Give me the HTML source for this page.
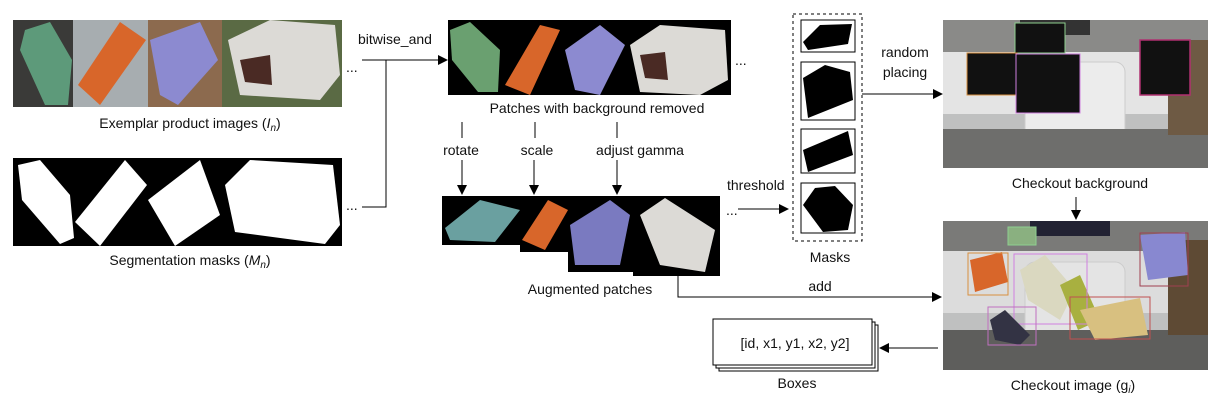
<!DOCTYPE html>
<html><head><meta charset="utf-8"><style>
html,body{margin:0;padding:0;background:#fff}
svg{display:block}
text{font-family:"Liberation Sans",Arial,sans-serif;font-size:14px;fill:#111}
</style></head><body>
<svg width="1224" height="404" viewBox="0 0 1224 404" xmlns="http://www.w3.org/2000/svg">
<defs>
<marker id="a" markerWidth="10" markerHeight="10" refX="9" refY="5" orient="auto" markerUnits="userSpaceOnUse">
<path d="M0,0 L10,5 L0,10 z" fill="#000"/></marker>
</defs>
<!-- exemplar images -->
<rect x="13" y="20" width="60" height="87" fill="#3a3a38"/>
<polygon points="25,30 50,22 72,60 68,105 45,105 20,50" fill="#5d9a7a"/>
<rect x="73" y="20" width="75" height="87" fill="#a7adb0"/>
<polygon points="78,85 120,22 146,40 100,105" fill="#d8662a"/>
<rect x="148" y="20" width="74" height="87" fill="#8c6a4e"/>
<polygon points="150,40 200,22 218,60 178,105 160,95" fill="#8c8ad0"/>
<rect x="222" y="20" width="120" height="87" fill="#5a6a44"/>
<polygon points="228,40 270,20 335,25 340,75 320,100 240,95" fill="#dcdad6"/>
<polygon points="240,60 270,55 272,85 245,82" fill="#4a2a24"/>
<text x="346" y="72" font-size="14">...</text>
<text x="190" y="128" text-anchor="middle">Exemplar product images (<tspan font-style="italic">I</tspan><tspan font-style="italic" font-size="10" dy="3">n</tspan><tspan dy="-3">)</tspan></text>
<!-- masks -->
<rect x="13" y="158" width="329" height="88" fill="#000"/>
<polygon points="18,165 40,160 70,195 74,238 60,244 22,200" fill="#fff"/>
<polygon points="75,222 125,160 147,185 100,246" fill="#fff"/>
<polygon points="148,200 200,160 220,215 175,246" fill="#fff"/>
<polygon points="225,185 250,160 333,165 340,225 325,244 235,232" fill="#fff"/>
<text x="346" y="210">...</text>
<text x="190" y="265" text-anchor="middle">Segmentation masks (<tspan font-style="italic">M</tspan><tspan font-style="italic" font-size="10" dy="3">n</tspan><tspan dy="-3">)</tspan></text>
<!-- bitwise_and -->
<text x="358" y="44">bitwise_and</text>
<line x1="362" y1="60" x2="447" y2="60" stroke="#000" stroke-width="1" marker-end="url(#a)"/>
<polyline points="362,207 386,207 386,60" fill="none" stroke="#000"/>
<!-- patches -->
<rect x="448" y="20" width="283" height="75" fill="#000"/>
<polygon points="450,30 470,22 500,50 498,92 478,92 452,60" fill="#6aa070"/>
<polygon points="505,85 540,25 560,30 530,95" fill="#d8662a"/>
<polygon points="565,50 600,25 625,45 600,95 575,90" fill="#8c8ad0"/>
<polygon points="630,45 660,25 725,30 728,80 700,95 640,92" fill="#dcdad6"/>
<polygon points="640,55 665,52 668,80 645,78" fill="#4a2a24"/>
<text x="735" y="65">...</text>
<text x="597" y="113" text-anchor="middle">Patches with background removed</text>
<!-- augment arrows -->
<line x1="462" y1="122" x2="462" y2="138" stroke="#000"/>
<line x1="535" y1="122" x2="535" y2="138" stroke="#000"/>
<line x1="617" y1="122" x2="617" y2="138" stroke="#000"/>
<text x="461" y="155" text-anchor="middle">rotate</text>
<text x="537" y="155" text-anchor="middle">scale</text>
<text x="640" y="155" text-anchor="middle">adjust gamma</text>
<line x1="462" y1="160" x2="462" y2="194" stroke="#000" marker-end="url(#a)"/>
<line x1="534" y1="160" x2="534" y2="194" stroke="#000" marker-end="url(#a)"/>
<line x1="617" y1="160" x2="617" y2="194" stroke="#000" marker-end="url(#a)"/>
<!-- augmented -->
<rect x="442" y="196" width="80" height="49" fill="#000"/>
<rect x="520" y="196" width="50" height="56" fill="#000"/>
<rect x="568" y="196" width="67" height="76" fill="#000"/>
<rect x="633" y="196" width="87" height="80" fill="#000"/>
<polygon points="445,228 480,200 520,210 495,242 450,240" fill="#6aa0a0"/>
<polygon points="522,240 548,200 568,210 545,250" fill="#d8662a"/>
<polygon points="570,225 610,200 630,215 620,265 575,265" fill="#7a7ac0"/>
<polygon points="640,215 665,198 715,230 705,272 660,265" fill="#dcdad6"/>
<text x="726" y="215">...</text>
<text x="590" y="294" text-anchor="middle">Augmented patches</text>
<!-- threshold -->
<text x="727" y="190">threshold</text>
<line x1="738" y1="209" x2="788" y2="209" stroke="#000" marker-end="url(#a)"/>
<!-- Masks -->
<rect x="793" y="14" width="69" height="227" fill="none" stroke="#000" stroke-dasharray="3,3"/>
<rect x="801" y="20" width="54" height="32" fill="#fff" stroke="#000"/>
<polygon points="803,42 820,25 852,24 848,44 808,50" fill="#000"/>
<rect x="801" y="62" width="54" height="58" fill="#fff" stroke="#000"/>
<polygon points="803,78 825,65 850,72 853,100 808,118" fill="#000"/>
<rect x="801" y="129" width="54" height="44" fill="#fff" stroke="#000"/>
<polygon points="803,150 848,131 853,155 808,172" fill="#000"/>
<rect x="801" y="183" width="54" height="50" fill="#fff" stroke="#000"/>
<polygon points="803,205 815,188 835,186 853,205 848,230 823,232" fill="#000"/>
<text x="830" y="262" text-anchor="middle">Masks</text>
<!-- random placing -->
<text x="905" y="57" text-anchor="middle">random</text>
<text x="905" y="77" text-anchor="middle">placing</text>
<line x1="862" y1="94" x2="942" y2="94" stroke="#000" marker-end="url(#a)"/>
<!-- checkout background -->
<rect x="943" y="20" width="265" height="148" fill="#bfc0c0"/>
<rect x="943" y="20" width="265" height="32" fill="#8a8a88"/>
<rect x="1020" y="20" width="70" height="15" fill="#333"/>
<rect x="943" y="52" width="225" height="62" fill="#e4e4e4"/>
<rect x="1025" y="62" width="100" height="80" rx="10" fill="#ececec" stroke="#ccc"/>
<rect x="943" y="129" width="265" height="39" fill="#6e6e6c"/>
<rect x="1168" y="40" width="40" height="95" fill="#6e5a44"/>
<rect x="1015" y="23" width="50" height="30" fill="#111" stroke="#8fd08f"/>
<rect x="967" y="53" width="50" height="42" fill="#111" stroke="#d89040"/>
<rect x="1016" y="54" width="64" height="59" fill="#111" stroke="#d080e0"/>
<rect x="1140" y="40" width="50" height="55" fill="#111" stroke="#b03070" stroke-width="1.5"/>
<text x="1080" y="188" text-anchor="middle">Checkout background</text>
<line x1="1076" y1="197" x2="1076" y2="219" stroke="#000" marker-end="url(#a)"/>
<!-- checkout image -->
<rect x="943" y="221" width="265" height="149" fill="#bfc0c0"/>
<rect x="943" y="221" width="265" height="30" fill="#7a7a78"/>
<rect x="1030" y="221" width="80" height="15" fill="#223"/>
<rect x="943" y="251" width="225" height="62" fill="#dcdcdc"/>
<rect x="1025" y="262" width="100" height="80" rx="10" fill="#e4e4e4" stroke="#ccc"/>
<rect x="943" y="330" width="265" height="40" fill="#5e5e5c"/>
<rect x="1168" y="240" width="40" height="95" fill="#5e4a34"/>
<rect x="1008" y="227" width="28" height="18" fill="#8ab080" stroke="#8fd08f"/>
<polygon points="970,260 1002,252 1008,282 975,292" fill="#d8662a"/>
<rect x="968" y="253" width="40" height="42" fill="none" stroke="#d89040"/>
<polygon points="1020,270 1045,255 1075,290 1060,320 1028,300" fill="#dad8c0"/>
<polygon points="1060,285 1080,275 1100,320 1078,330" fill="#a8b040"/>
<rect x="1014" y="254" width="73" height="70" fill="none" stroke="#d080e0"/>
<polygon points="1080,310 1140,298 1148,335 1095,340" fill="#d8c080"/>
<rect x="1070" y="297" width="80" height="42" fill="none" stroke="#c05050"/>
<polygon points="1140,235 1185,232 1188,275 1148,280" fill="#8888d0"/>
<rect x="1140" y="233" width="48" height="53" fill="none" stroke="#a04050"/>
<polygon points="990,320 1005,310 1030,335 1020,345 995,340" fill="#334"/>
<rect x="988" y="307" width="48" height="38" fill="none" stroke="#c070c0"/>
<text x="1073" y="390" text-anchor="middle">Checkout image (g<tspan font-style="italic" font-size="10" dy="3">i</tspan><tspan dy="-3">)</tspan></text>
<!-- add -->
<text x="820" y="291" text-anchor="middle">add</text>
<polyline points="678,276 678,297 941,297" fill="none" stroke="#000" marker-end="url(#a)"/>
<!-- boxes -->
<rect x="719" y="325" width="159" height="46" fill="#fff" stroke="#000"/>
<rect x="716" y="322" width="159" height="46" fill="#fff" stroke="#000"/>
<rect x="713" y="319" width="159" height="46" fill="#fff" stroke="#000"/>
<text x="795" y="348" text-anchor="middle">[id, x1, y1, x2, y2]</text>
<line x1="938" y1="348" x2="880" y2="348" stroke="#000" marker-end="url(#a)"/>
<text x="797" y="388" text-anchor="middle">Boxes</text>
</svg>
</body></html>
